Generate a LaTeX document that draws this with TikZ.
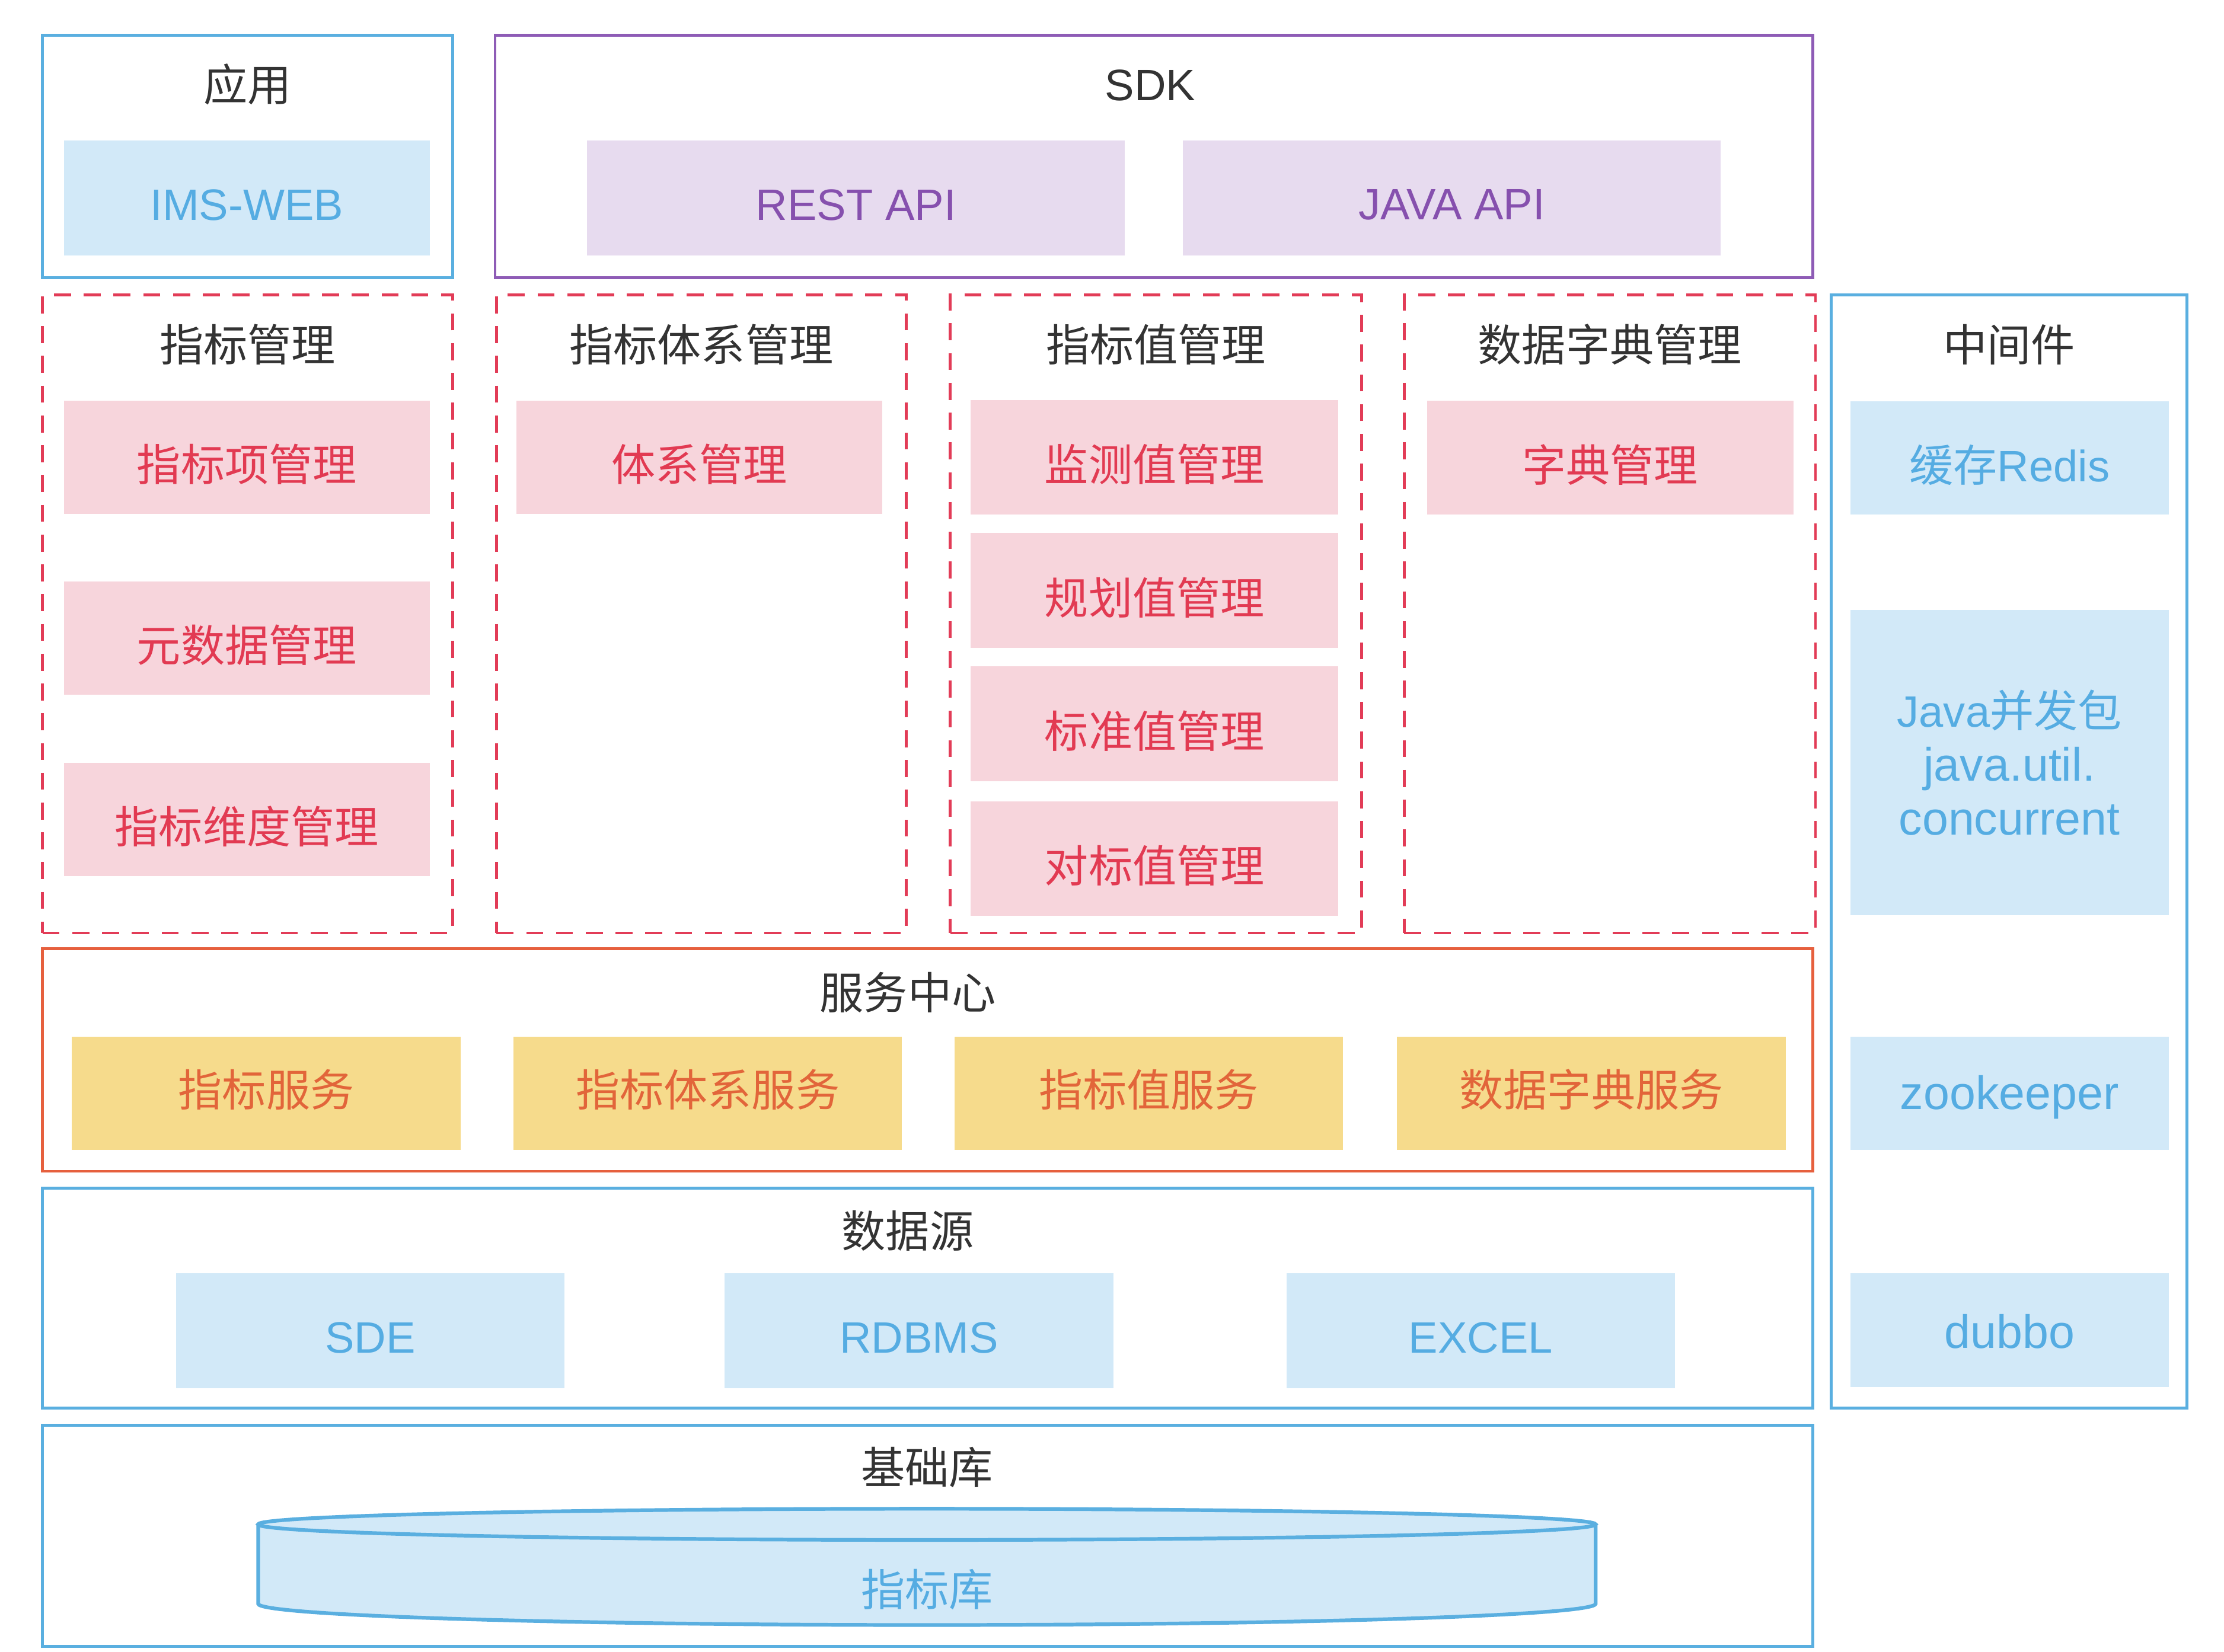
\documentclass[tikz,border=0pt]{standalone}
\usepackage{fontspec}
\setmainfont{Noto Sans CJK SC}
\newfontfamily\lat{Liberation Sans}
\usetikzlibrary{fit}
\definecolor{bluebd}{HTML}{5AAFE0}
\definecolor{bluefill}{HTML}{D2E9F8}
\definecolor{bluetext}{HTML}{55ACE2}
\definecolor{purplebd}{HTML}{8E5CB6}
\definecolor{purplefill}{HTML}{E7DBEF}
\definecolor{purpletext}{HTML}{8650AE}
\definecolor{reddash}{HTML}{E23C57}
\definecolor{pinkfill}{HTML}{F7D5DC}
\definecolor{redtext}{HTML}{E23A52}
\definecolor{orangebd}{HTML}{E6603E}
\definecolor{yellowfill}{HTML}{F6DB8C}
\definecolor{orangetext}{HTML}{E2653A}
\definecolor{darktext}{HTML}{333333}
\newcommand{\biglat}{\fontsize{16.5pt}{19pt}\selectfont\lat}
\begin{document}
\begin{tikzpicture}[x=0.5pt,y=-0.5pt,
  every node/.style={font=\fontsize{15.5pt}{19pt}\selectfont, inner sep=0pt, outer sep=0pt},
  title/.style={text=darktext},
  blueframe/.style={draw=bluebd, line width=1pt},
  purpleframe/.style={draw=purplebd, line width=1pt},
  orangeframe/.style={draw=orangebd, line width=1pt},
  redframe/.style={draw=reddash, line width=1pt, dash pattern=on 6pt off 4.5pt},
  blueitem/.style={fill=bluefill},
  purpleitem/.style={fill=purplefill},
  pinkitem/.style={fill=pinkfill},
  yellowitem/.style={fill=yellowfill},
  bluelbl/.style={text=bluetext, yshift=-2.5pt},
  purplelbl/.style={text=purpletext, yshift=-2.5pt},
  pinklbl/.style={text=redtext, yshift=-2.5pt},
  yellowlbl/.style={text=orangetext, yshift=1.2pt}
]
\useasboundingbox[fill=white] (0,0) rectangle (1568,1164.7);

% 应用
\node[blueframe, fit={(30,25)(319,196)}] (app) {};
\node[title] (apptitle) at (174.5,59.5) {应用};
\node[blueitem, fit={(45,99)(303,180)}] (imsweb) {};
\node[bluelbl] (imswebt) at (imsweb.center) {\lat IMS-WEB};

% SDK
\node[purpleframe, fit={(349,25)(1278,196)}] (sdk) {};
\node[title] (sdktitle) at (811,60) {\lat SDK};
\node[purpleitem, fit={(414,99)(793,180)}] (rest) {};
\node[purplelbl] (restt) at (rest.center) {\lat REST API};
\node[purpleitem, fit={(834,99)(1213,180)}] (javaapi) {};
\node[purplelbl] (javaapit) at (javaapi.center) {\lat JAVA API};

% 指标管理
\node[redframe, fit={(30,208)(319,658)}] (col1) {};
\node[title] (col1title) at (174.5,243) {指标管理};
\node[pinkitem, fit={(45,282.5)(303,362.5)}] (c1a) {};
\node[pinklbl] (c1at) at (c1a.center) {指标项管理};
\node[pinkitem, fit={(45,410)(303,490)}] (c1b) {};
\node[pinklbl] (c1bt) at (c1b.center) {元数据管理};
\node[pinkitem, fit={(45,538)(303,618)}] (c1c) {};
\node[pinklbl] (c1ct) at (c1c.center) {指标维度管理};

% 指标体系管理
\node[redframe, fit={(350,208)(639,658)}] (col2) {};
\node[title] (col2title) at (494.5,243) {指标体系管理};
\node[pinkitem, fit={(364,282.5)(622,362.5)}] (c2a) {};
\node[pinklbl] (c2at) at (c2a.center) {体系管理};

% 指标值管理
\node[redframe, fit={(670,208)(960,658)}] (col3) {};
\node[title] (col3title) at (815,243) {指标值管理};
\node[pinkitem, fit={(684.5,282)(943.5,363)}] (c3a) {};
\node[pinklbl] (c3at) at (c3a.center) {监测值管理};
\node[pinkitem, fit={(684.5,376)(943.5,457)}] (c3b) {};
\node[pinklbl] (c3bt) at (c3b.center) {规划值管理};
\node[pinkitem, fit={(684.5,470)(943.5,551)}] (c3c) {};
\node[pinklbl] (c3ct) at (c3c.center) {标准值管理};
\node[pinkitem, fit={(684.5,565)(943.5,646)}] (c3d) {};
\node[pinklbl] (c3dt) at (c3d.center) {对标值管理};

% 数据字典管理
\node[redframe, fit={(990,208)(1280,658)}] (col4) {};
\node[title] (col4title) at (1135,243) {数据字典管理};
\node[pinkitem, fit={(1006,282.5)(1264.5,363)}] (c4a) {};
\node[pinklbl] (c4at) at (c4a.center) {字典管理};

% 中间件
\node[blueframe, fit={(1291,208)(1542,993)}] (mid) {};
\node[title] (midtitle) at (1416.5,243) {中间件};
\node[blueitem, fit={(1304.5,283)(1529,363)}] (redis) {};
\node[bluelbl] (redist) at (redis.center) {缓存{\lat Redis}};
\node[blueitem, fit={(1304.5,430)(1529,645.5)}] (juc) {};
\node[text=bluetext, align=center] (juct) at (juc.center) {{\lat Java}并发包\\{\biglat java.util.}\\{\biglat concurrent}};
\node[blueitem, fit={(1304.5,731)(1529,811)}] (zk) {};
\node[bluelbl, yshift=1pt] (zkt) at (zk.center) {\biglat zookeeper};
\node[blueitem, fit={(1304.5,898)(1529,978)}] (dubbo) {};
\node[bluelbl, yshift=2pt] (dubbot) at (dubbo.center) {\biglat dubbo};

% 服务中心
\node[orangeframe, fit={(30,669)(1278,826)}] (svc) {};
\node[title] (svctitle) at (640,700) {服务中心};
\node[yellowitem, fit={(50.5,731)(325,811)}] (s1) {};
\node[yellowlbl] (s1t) at (s1.center) {指标服务};
\node[yellowitem, fit={(362,731)(636,811)}] (s2) {};
\node[yellowlbl] (s2t) at (s2.center) {指标体系服务};
\node[yellowitem, fit={(673,731)(947,811)}] (s3) {};
\node[yellowlbl] (s3t) at (s3.center) {指标值服务};
\node[yellowitem, fit={(985,731)(1259,811)}] (s4) {};
\node[yellowlbl] (s4t) at (s4.center) {数据字典服务};

% 数据源
\node[blueframe, fit={(30,838)(1278,993)}] (ds) {};
\node[title] (dstitle) at (640,868) {数据源};
\node[blueitem, fit={(124,898)(398,979)}] (sde) {};
\node[bluelbl] (sdet) at (sde.center) {\lat SDE};
\node[blueitem, fit={(511,898)(785,979)}] (rdbms) {};
\node[bluelbl] (rdbmst) at (rdbms.center) {\lat RDBMS};
\node[blueitem, fit={(907,898)(1181,979)}] (excel) {};
\node[bluelbl] (excelt) at (excel.center) {\lat EXCEL};

% 基础库
\node[blueframe, fit={(30,1005)(1278,1161)}] (base) {};
\node[title] (basetitle) at (653.5,1035) {基础库};
% cylinder
\fill[bluefill] (182,1075) -- (182,1131)
  .. controls (182,1139.28) and (393.1,1146) .. (653.5,1146)
  .. controls (913.9,1146) and (1125,1139.28) .. (1125,1131)
  -- (1125,1075)
  .. controls (1125,1068.92) and (913.9,1064) .. (653.5,1064)
  .. controls (393.1,1064) and (182,1068.92) .. (182,1075) -- cycle;
\draw[bluebd, line width=1.3pt] (182,1075) -- (182,1131)
  .. controls (182,1139.28) and (393.1,1146) .. (653.5,1146)
  .. controls (913.9,1146) and (1125,1139.28) .. (1125,1131)
  -- (1125,1075);
\draw[bluebd, line width=1.3pt] (182,1075)
  .. controls (182,1068.92) and (393.1,1064) .. (653.5,1064)
  .. controls (913.9,1064) and (1125,1068.92) .. (1125,1075)
  .. controls (1125,1081.08) and (913.9,1086) .. (653.5,1086)
  .. controls (393.1,1086) and (182,1081.08) .. (182,1075) -- cycle;
\node[text=bluetext] (dblabel) at (653.5,1121) {指标库};
\end{tikzpicture}
\end{document}
